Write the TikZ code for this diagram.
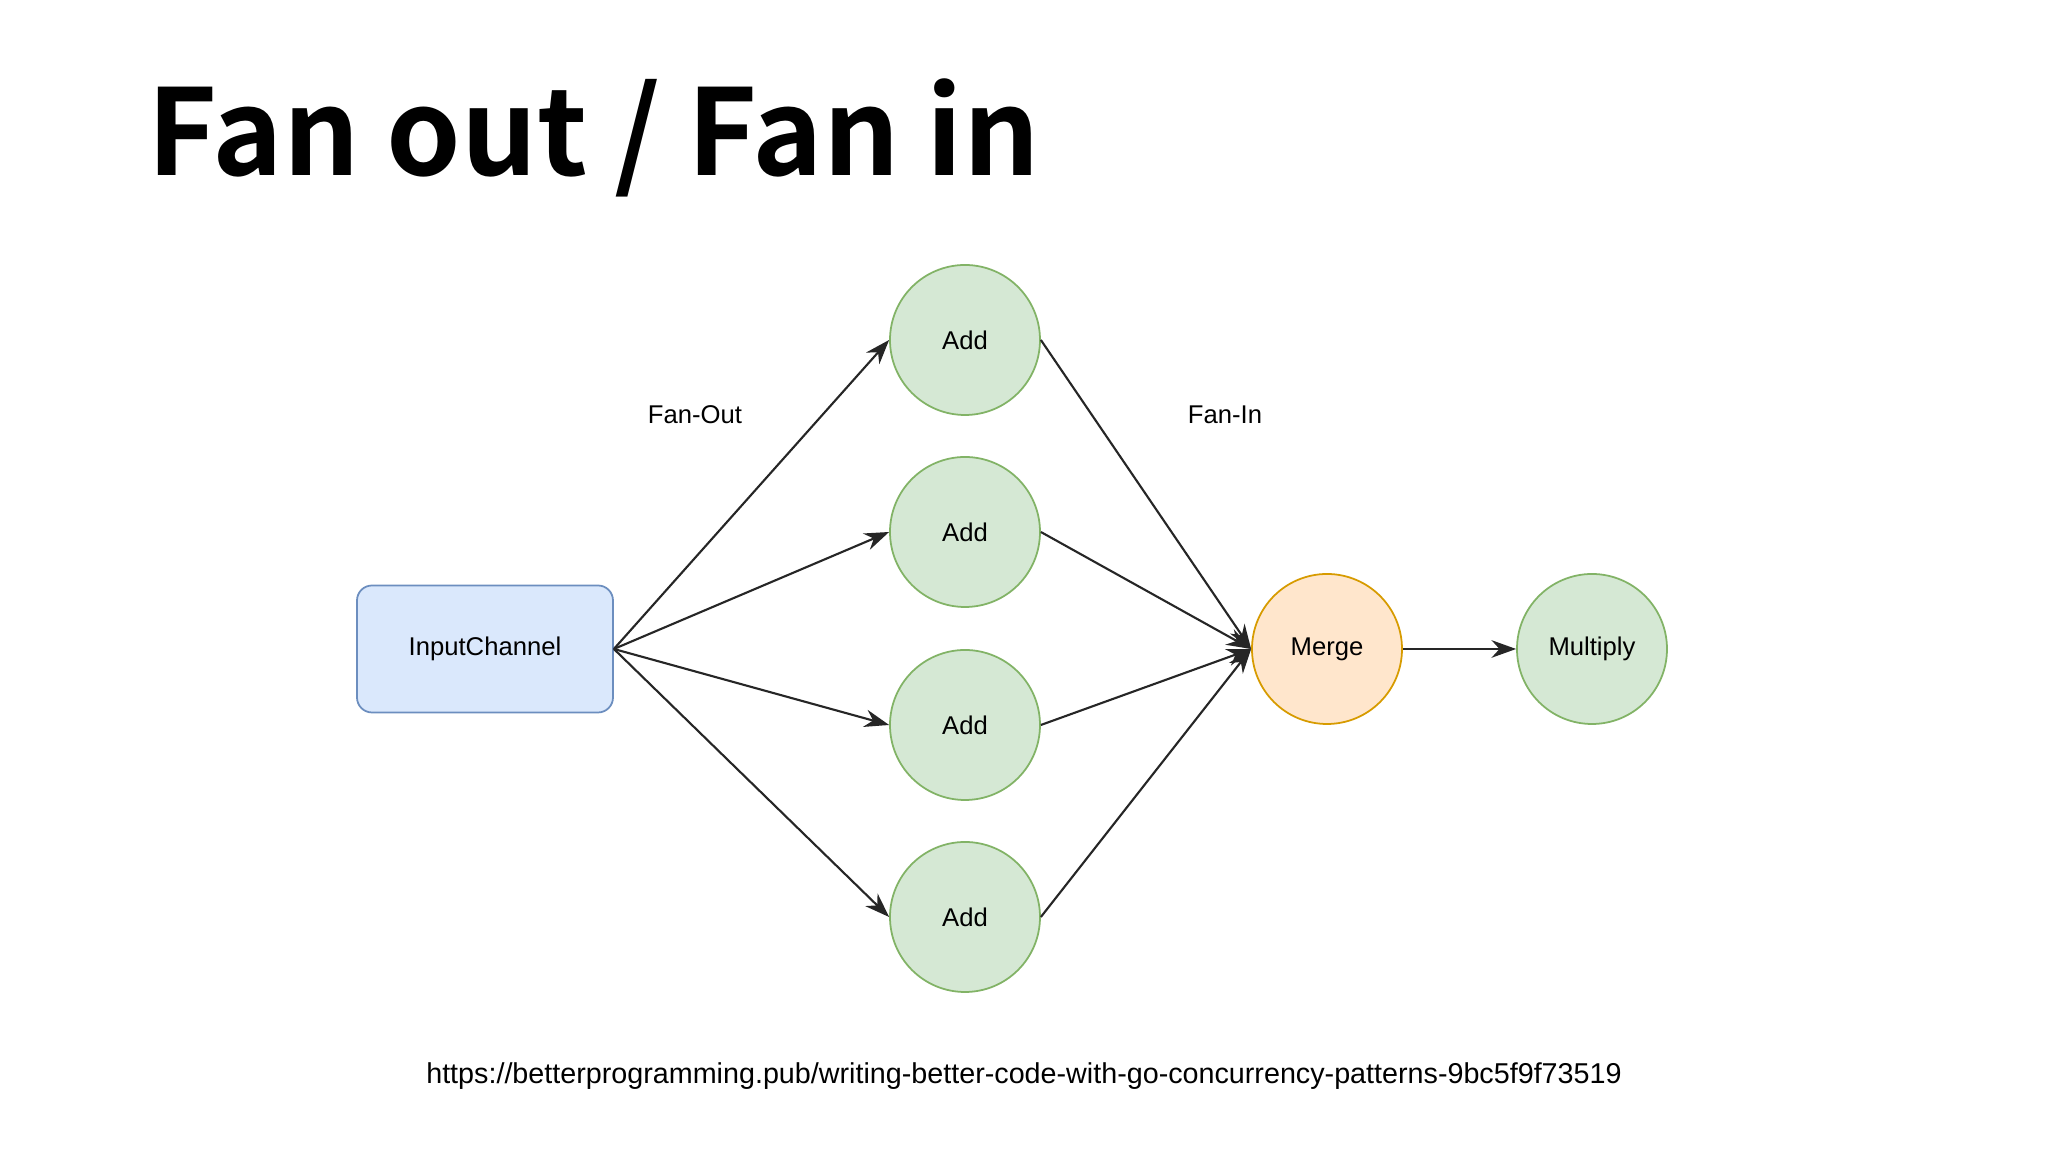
\documentclass[tikz,border=0pt]{standalone}
\usepackage{fontspec}
\setmainfont{Liberation Sans}
\newfontfamily\titlefont{Noto Sans CJK SC}[BoldFont={* Bold}]
\usetikzlibrary{arrows.meta}
\definecolor{boxblue}{HTML}{DAE8FC}
\definecolor{boxblueline}{HTML}{6C8EBF}
\definecolor{stepgreen}{HTML}{D5E8D4}
\definecolor{stepgreenline}{HTML}{82B366}
\definecolor{mergeorange}{HTML}{FFE6CC}
\definecolor{mergeorangeline}{HTML}{D79B00}

\begin{document}
\begin{tikzpicture}[font=\fontsize{7.3}{8}\selectfont,
  stage/.style={circle,minimum size=1.5cm,inner sep=0pt,line width=.5pt,fill=stepgreen,draw=stepgreenline},
  flow/.style={-{Stealth[length=7pt,width=5pt]},line width=.6pt,black!85}]
\useasboundingbox[fill=white] (0,0) rectangle (20.48,11.52);
\node[anchor=base west,inner sep=0pt,font=\titlefont\bfseries\fontsize{33.95}{36}\selectfont] (title) at (1.47,9.76) {Fan out / Fan in};
\node[rounded corners=.15cm,minimum width=2.56cm,minimum height=1.27cm,fill=boxblue,draw=boxblueline,line width=.5pt] (input) at (4.85,5.03) {InputChannel};
\node[stage] (add1) at (9.65,8.12) {Add};
\node[stage] (add2) at (9.65,6.20) {Add};
\node[stage] (add3) at (9.65,4.27) {Add};
\node[stage] (add4) at (9.65,2.35) {Add};
\node[stage,fill=mergeorange,draw=mergeorangeline] (merge) at (13.27,5.03) {Merge};
\node[stage] (multiply) at (15.92,5.03) {Multiply};
\node (fanout) at (6.95,7.37) {Fan-Out};
\node (fanin) at (12.25,7.37) {Fan-In};
\foreach \n in {1,...,4} {
  \draw[flow] (input.east) -- (add\n.west);
  \draw[flow] (add\n.east) -- (merge.west);
}
\draw[flow] (merge.east) -- (multiply.west);
\node[font=\fontsize{8.17}{10}\selectfont] (source) at (10.24,0.76) {https://betterprogramming.pub/writing-better-code-with-go-concurrency-patterns-9bc5f9f73519};
\end{tikzpicture}
\end{document}
